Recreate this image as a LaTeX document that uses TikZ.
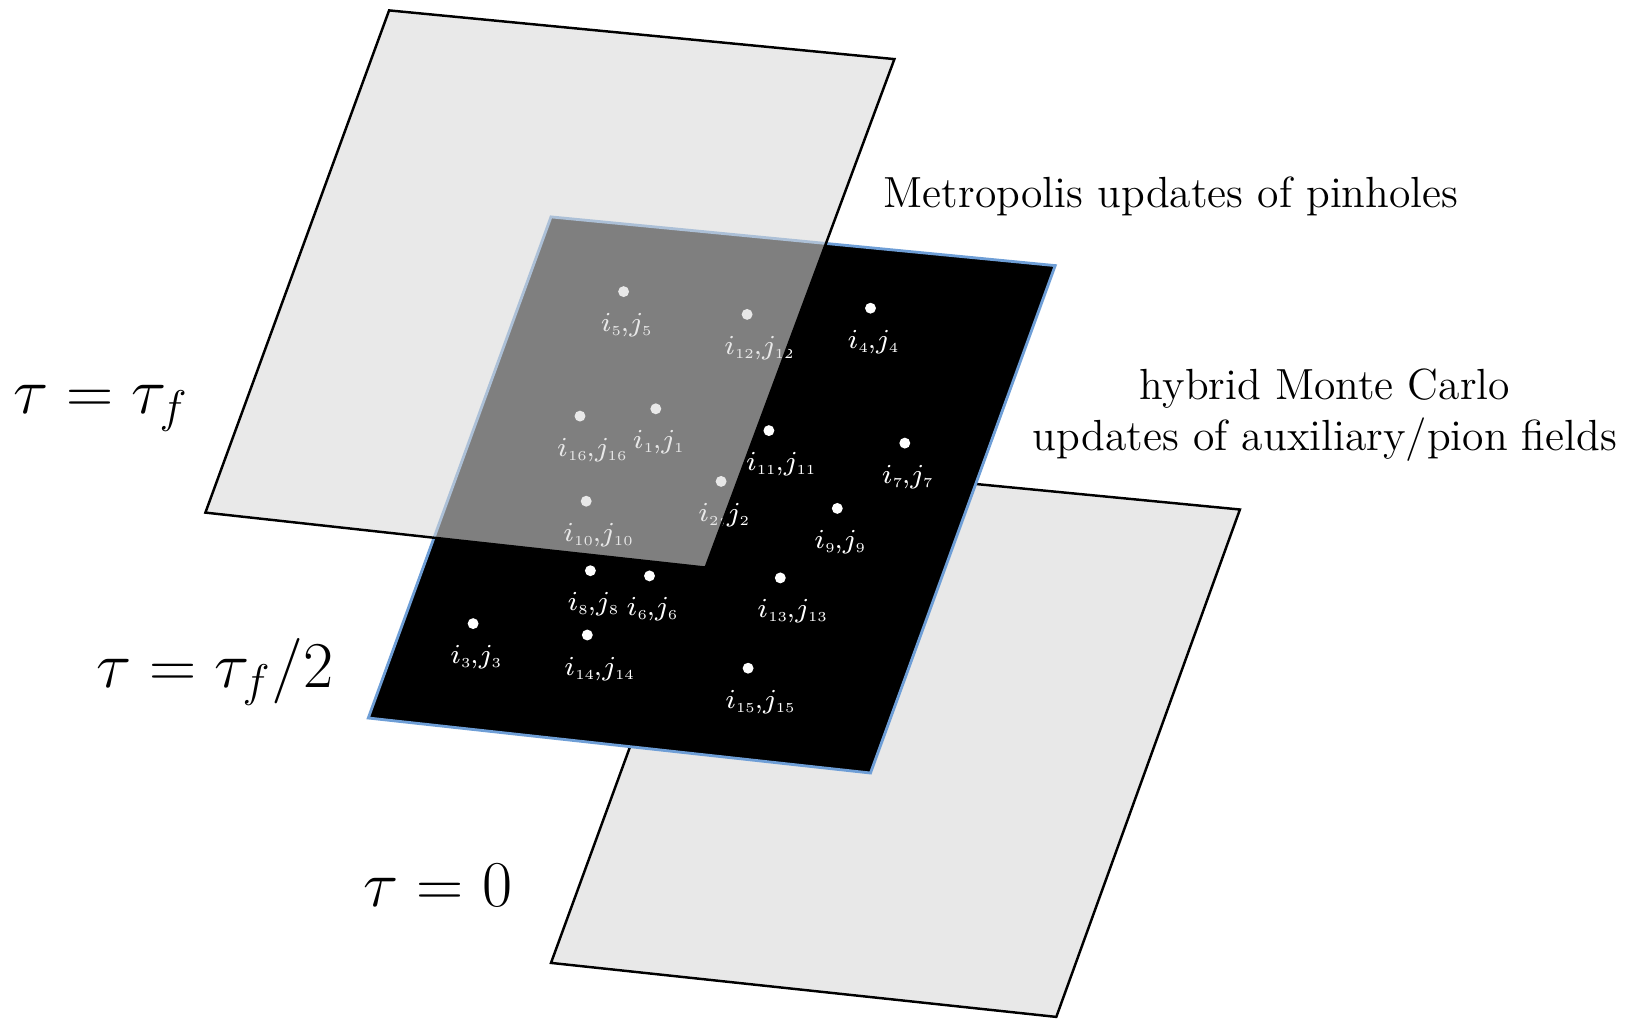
\RequirePackage{fix-cm}
\documentclass[tikz,border=0pt]{standalone}
\usepackage{tikz}
\usetikzlibrary{positioning}
\definecolor{sheetgray}{RGB}{232,232,232}
\definecolor{veilgray}{RGB}{217,217,217}
\definecolor{edgeblue}{RGB}{110,158,214}
\tikzset{
  sheet/.style={draw=black, fill=sheetgray, line width=0.7pt},
  midsheet/.style={draw=edgeblue, fill=black, line width=0.8pt},
  topsheet/.style={draw=black, fill=veilgray, fill opacity=0.59, line width=0.7pt},
  pin/.style={circle, fill=white, inner sep=0pt, minimum size=3.1pt},
  pinlbl/.style={text=white, inner sep=0pt, font={\fontsize{7.8}{9}\selectfont\scriptspace=0pt\relax}},
  taulbl/.style={anchor=base west, inner sep=0pt, font=\fontsize{18.6}{21}\selectfont},
  note/.style={inner sep=0pt, align=center, font=\fontsize{12.4}{14.4}\selectfont}
}

\begin{document}
\begin{tikzpicture}[x=0.01cm, y=-0.01cm]
  \useasboundingbox (0,0) rectangle (1627,1021);
  \draw[sheet] (734.6,460.7) -- (1239.9,509.5) -- (1056.3,1016.9) -- (551.0,962.9) -- cycle;
  \draw[midsheet] (551.0,216.9) -- (1055.2,265.6) -- (870.5,773.0) -- (368.3,718.0) -- cycle;
  \foreach \k/\x/\y in {5/623.6/291.6, 12/747.1/314.4, 4/870.5/308.2, 16/580.0/416.1,
      1/655.8/408.8, 11/768.9/430.6, 7/904.8/443.1, 10/586.2/501.2, 2/721.1/481.4,
      9/837.3/508.4, 8/590.4/570.7, 6/649.5/575.9, 13/780.3/577.9, 3/473.1/623.6,
      14/587.3/635.0, 15/748.1/668.2} {
    \node[pin] (p\k) at (\x,\y) {};
    \node[pinlbl, below right=4.8pt and -8pt of p\k] (l\k) {$i_{\scriptscriptstyle\k}$,$j_{\scriptscriptstyle\k}$};
  }
  \draw[topsheet] (389.1,10.4) -- (894.4,59.1) -- (705.6,567.6) -- (205.4,512.6) -- cycle;

  \node[taulbl] (tauf) at (12.5,413) {$\tau=\tau_f$};
  \node[taulbl] (tauhalf) at (95.5,687) {$\tau=\tau_f/2$};
  \node[taulbl] (tauzero) at (363,906) {$\tau=0$};
  \node[note, anchor=base west] (metro) at (883,207.5) {Metropolis updates of pinholes};
  \node[note, anchor=base] (hmc) at (1325,450) {hybrid Monte Carlo\\updates of auxiliary/pion fields};
\end{tikzpicture}
\end{document}
